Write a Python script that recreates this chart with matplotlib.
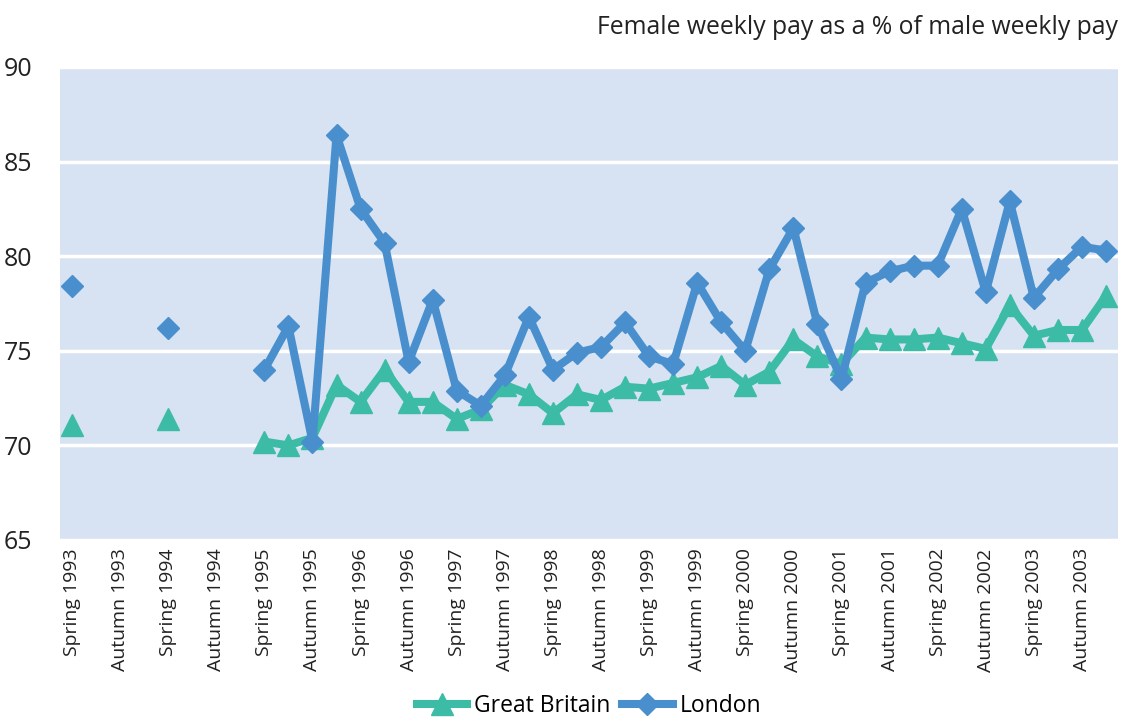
import matplotlib
matplotlib.use('Agg')

import numpy as np
import matplotlib.pyplot as plt

plt.rcParams['font.family'] = ['Open Sans', 'DejaVu Sans']

nan = np.nan

# quarterly periods, Spring 1993 .. winter 2003/04; labels every other quarter
years = list(range(1993, 2004))
tick_labels = []
for y in years:
    tick_labels += ["Spring %d" % y, "Autumn %d" % y]

great_britain = [71.1, nan, nan, nan, 71.4, nan, nan, nan,
                 70.2, 70.0, 70.4, 73.2, 72.3, 74.0, 72.3, 72.3,
                 71.4, 71.9, 73.2, 72.7, 71.7, 72.7, 72.4, 73.1,
                 73.0, 73.3, 73.6, 74.2, 73.2, 73.9, 75.6, 74.7,
                 74.3, 75.7, 75.6, 75.6, 75.7, 75.4, 75.1, 77.4,
                 75.8, 76.1, 76.1, 77.9]

london = [78.4, nan, nan, nan, 76.2, nan, nan, nan,
          74.0, 76.3, 70.2, 86.4, 82.5, 80.7, 74.4, 77.7,
          72.9, 72.1, 73.7, 76.8, 74.0, 74.9, 75.2, 76.5,
          74.7, 74.3, 78.6, 76.5, 75.0, 79.3, 81.5, 76.4,
          73.5, 78.6, 79.2, 79.5, 79.5, 82.5, 78.1, 82.9,
          77.8, 79.3, 80.5, 80.3]

gb_color = "#3cbca6"
ldn_color = "#4a8fcd"

fig = plt.figure(figsize=(11.23, 7.22), dpi=100)
ax = fig.add_axes([60/1123, 1 - 540/722, 1058/1123, 473/722])
ax.set_facecolor("#d7e3f2")

x = np.arange(len(london))
ax.plot(x, great_britain, color=gb_color, lw=5.8, marker="^", ms=16,
        label="Great Britain", zorder=3)
ax.plot(x, london, color=ldn_color, lw=5.8, marker="D", ms=11.5,
        label="London", zorder=4)

ax.set_xlim(-0.5, len(london) - 0.5)
ax.set_ylim(65, 90)
ax.set_yticks([65, 70, 75, 80, 85, 90])
ax.grid(axis="y", color="white", lw=2.5)
ax.set_axisbelow(True)
ax.set_xticks(np.arange(0, len(london), 2))
ax.set_xticklabels(tick_labels, rotation=90, fontsize=14, color="#222222")
ax.tick_params(axis="y", labelsize=18, colors="#222222", length=0, pad=20)
ax.tick_params(axis="x", length=0, pad=6)
for s in ax.spines.values():
    s.set_visible(False)

fig.text(1118/1123, 1 - 28/722, "Female weekly pay as a % of male weekly pay",
         ha="right", va="center", fontsize=17.8, color="#222222")

ax.legend(loc="lower center", bbox_to_anchor=(0.5, -0.42), ncol=2,
          frameon=False, fontsize=16.5, handlelength=2.2, columnspacing=0.5,
          handletextpad=0.3)

plt.savefig("out.png", dpi=100)
